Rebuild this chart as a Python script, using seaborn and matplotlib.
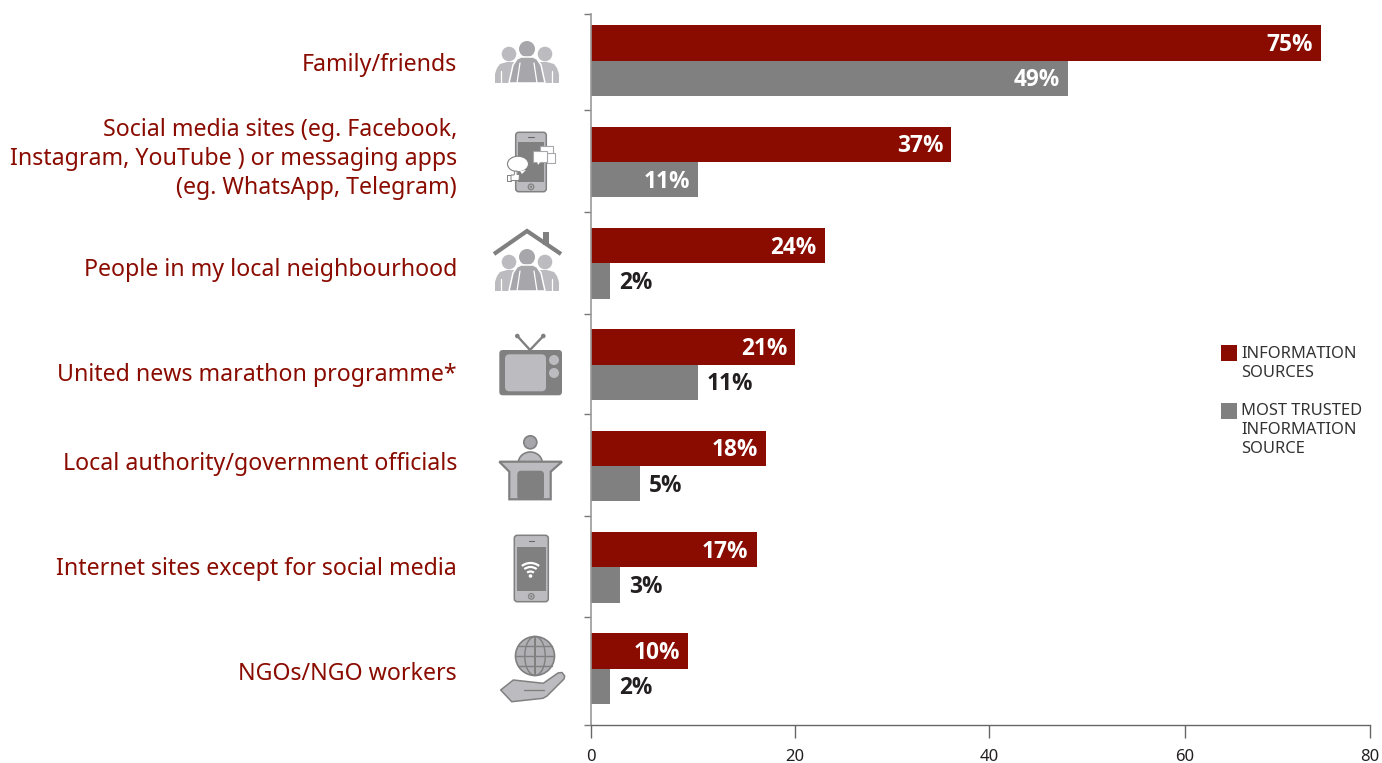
import matplotlib
matplotlib.use("Agg")
import matplotlib.pyplot as plt
import pandas as pd
import seaborn as sns
from matplotlib.patches import Arc, Circle, Ellipse, FancyBboxPatch, Polygon, Rectangle

# Survey results: where people get information and which source they trust most
sources = [
    "Family/friends",
    "Social media sites (eg. Facebook,\nInstagram, YouTube ) or messaging apps\n(eg. WhatsApp, Telegram)",
    "People in my local neighbourhood",
    "United news marathon programme*",
    "Local authority/government officials",
    "Internet sites except for social media",
    "NGOs/NGO workers",
]
information_sources = [75, 37, 24, 21, 18, 17, 10]
most_trusted = [49, 11, 2, 11, 5, 3, 2]
series_names = ["INFORMATION\nSOURCES", "MOST TRUSTED\nINFORMATION\nSOURCE"]
x_tick_labels = ["0", "20", "40", "60", "80"]

RED = "#8a0b00"
GREY = "#808080"
LIGHT = "#bcbcc0"
MID = "#a6a6ab"
INK = "#231f20"
FONT = "Noto Sans"
BOLD_FONT = "Open Sans"

W, H = 1382, 763
sns.set_theme(style="white")
plt.rcParams["font.family"] = [FONT, "DejaVu Sans"]

fig = plt.figure(figsize=(W / 100, H / 100), dpi=100, facecolor="white")


def px_axes(left, top, right, bottom):
    return [left / W, 1 - bottom / H, (right - left) / W, (bottom - top) / H]


# --- bars ---
ax = fig.add_axes(px_axes(591, 14.2, 1370, 725.2))
frame = pd.DataFrame({
    "source": sources * 2,
    "share": information_sources + most_trusted,
    "series": [series_names[0]] * len(sources) + [series_names[1]] * len(sources),
})
sns.barplot(
    data=frame, y="source", x="share", hue="series", order=sources,
    hue_order=series_names, palette=[RED, GREY], width=0.7, gap=0,
    saturation=1, legend=False, linewidth=0, edgecolor="none", ax=ax,
)
ax.set_xlim(0, 80)
ax.set_ylim(6.558, -0.459)
ax.set_xlabel("")
ax.set_ylabel("")

# The printed tick marks sit slightly right of the even scale divisions
ax.set_xticks([0, 20.95, 40.9, 60.95, 80], x_tick_labels)
ax.set_yticks([-0.459, 0.49, 1.49, 2.497, 3.49, 4.49, 5.487, 6.558], [""] * 8)
ax.tick_params(axis="x", length=9.4, width=1, color="#666666", pad=7.5,
               labelsize=12, labelcolor=INK, bottom=True)
ax.tick_params(axis="y", length=5, width=1, color="#777777", left=True)
for side in ("top", "right"):
    ax.spines[side].set_visible(False)
ax.spines["left"].set_color("#999999")
ax.spines["left"].set_linewidth(1.2)
ax.spines["bottom"].set_color("#666666")
ax.spines["bottom"].set_linewidth(1)

# --- value labels ---
px_to_pt = 72 / 100
trusted_inside = [True, True, False, False, False, False, False]
for series_idx, container in enumerate(ax.containers):
    for row, bar in enumerate(container):
        value = bar.get_width()
        inside = series_idx == 0 or trusted_inside[row]
        ax.annotate(
            f"{value:.0f}%",
            (value, bar.get_y() + bar.get_height() / 2),
            xytext=((-8 if inside else 9) * px_to_pt, 0.7),
            textcoords="offset points",
            ha="right" if inside else "left",
            va="center_baseline",
            color="white" if inside else INK,
            fontsize=16.3,
            fontweight="bold",
            family=BOLD_FONT,
        )

# --- overlay in figure pixels for row captions, pictograms and the key ---
ov = fig.add_axes([0, 0, 1, 1], zorder=5)
ov.set_xlim(0, W)
ov.set_ylim(H, 0)
ov.axis("off")
ov.patch.set_alpha(0)

caption_y = [65, 159, 270, 375, 464, 569, 674]
for text, y in zip(sources, caption_y):
    ov.text(457, y, text, ha="right", va="center", color=RED, fontsize=16.7,
            linespacing=1.28, multialignment="right")


def rounded(x0, y0, x1, y1, r, **kw):
    ov.add_patch(FancyBboxPatch((x0 + r, y0 + r), x1 - x0 - 2 * r, y1 - y0 - 2 * r,
                                boxstyle=f"round,pad={r},rounding_size={r}", **kw))


def people(cx, base):
    """Three standing figures; the outer two stand behind the middle one."""
    for side in (-1, 1):
        ov.add_patch(Circle((cx + side * 18, base - 29), 7.3, fc=LIGHT, ec="none"))
        ov.add_patch(Polygon([
            (cx + side * 10, base), (cx + side * 10, base - 21), (cx + side * 20, base - 21),
            (cx + side * 27, base - 19), (cx + side * 30, base - 15), (cx + side * 32, base - 9),
            (cx + side * 32, base),
        ], fc=LIGHT, ec="none"))
        ov.plot([cx + side * 25.5, cx + side * 25.5], [base - 12, base], color="white", lw=0.9)
    ov.add_patch(Circle((cx, base - 34), 8, fc=MID, ec="none"))
    ov.add_patch(Polygon([
        (cx - 18, base), (cx - 14, base - 18), (cx - 10, base - 24), (cx - 6, base - 26),
        (cx + 6, base - 26), (cx + 10, base - 24), (cx + 14, base - 18), (cx + 18, base),
    ], fc=MID, ec="white", lw=1.1))
    for side in (-1, 1):
        ov.plot([cx + side * 7, cx + side * 10], [base - 20, base], color="white", lw=0.9)


def phone(x0, y0, x1, y1, sx0, sy0, sx1, sy1):
    rounded(x0, y0, x1, y1, 3, fc=LIGHT, ec=GREY, lw=1.1)
    ov.add_patch(Rectangle((sx0, sy0), sx1 - sx0, sy1 - sy0, fc=GREY, ec="none"))
    cx = (x0 + x1) / 2
    ov.plot([cx - 2.5, cx + 3], [(y0 + sy0) / 2] * 2, color="#666666", lw=0.8)
    ov.add_patch(Circle((cx, (y1 + sy1) / 2), 2.8, fc="none", ec=GREY, lw=0.9))
    ov.add_patch(Circle((cx, (y1 + sy1) / 2), 1.2, fc=GREY, ec="none"))


people(527, 83)

# Phone with chat bubbles
phone(515.7, 132.3, 546.3, 191.7, 518, 142, 544, 182)
for x0, y0, x1, y1 in [(540, 146, 553, 156), (547, 153, 555, 163), (533, 151, 547, 162)]:
    ov.add_patch(Rectangle((x0, y0), x1 - x0, y1 - y0, fc="white", ec=MID, lw=0.8))
ov.add_patch(Polygon([(537, 161), (541, 161), (538, 165)], fc="white", ec="none"))
ov.add_patch(Ellipse((518, 164), 21, 15.5, fc="white", ec=GREY, lw=0.8))
ov.add_patch(Polygon([(520, 171), (526, 170), (522, 174)], fc="white", ec="none"))
ov.add_patch(Rectangle((507.5, 174.5), 3.5, 6, fc="white", ec=GREY, lw=0.7))
ov.add_patch(Polygon([(511, 175), (514, 175), (515, 171), (517, 171), (517, 174.5),
                      (519.5, 174.5), (519, 180.5), (511, 180.5)], fc="white", ec=GREY, lw=0.7))

# House sheltering people
people(527, 291)
ov.add_patch(Rectangle((542.7, 232), 6.3, 13, fc=GREY, ec="none"))
ov.plot([494, 527, 561], [254, 231, 254], color=GREY, lw=3, solid_joinstyle="miter",
        solid_capstyle="butt")

# Television
for tip in (517.3, 543.3):
    ov.plot([530, tip], [350, 336], color=GREY, lw=1.7)
    ov.add_patch(Circle((tip, 336), 2.3, fc=GREY, ec="none"))
rounded(499.3, 350, 562, 395.3, 3.5, fc=GREY, ec="none")
rounded(505, 354.3, 546, 391.3, 4.5, fc=LIGHT, ec="none")
for y in (360, 373):
    ov.add_patch(Circle((554, y), 5, fc=LIGHT, ec="none"))

# Speaker at a podium
ov.add_patch(Ellipse((530.3, 463), 24, 22, fc=LIGHT, ec=GREY, lw=1.2))
ov.add_patch(Circle((530.3, 442.3), 6.5, fc=MID, ec=GREY, lw=1.2))
ov.add_patch(Polygon([(499.3, 461.7), (562, 461.7), (550.7, 471.7), (550.7, 499.3),
                      (509.3, 499.3), (509.3, 471.7)], fc=LIGHT, ec=GREY, lw=1.6))
rounded(517.3, 470.7, 544, 500, 4, fc=GREY, ec="none")

# Phone showing a wifi signal
phone(514.3, 535.3, 548.3, 601.7, 516.7, 547, 546, 591)
for r, lw in ((5.5, 1.6), (10, 1.6), (14, 1.6)):
    ov.add_patch(Arc((530.5, 577), 2 * r, 2 * r, theta1=232, theta2=308, color="white", lw=lw))
ov.add_patch(Circle((530.5, 576), 1.8, fc="white", ec="none"))

# Globe resting on an open hand
gx, gy, gr = 535, 656, 19.5
ov.add_patch(Circle((gx, gy), gr, fc="#b0b0b5", ec=GREY, lw=1.2))
for width in (gr * 1.05, 0.01):
    ov.add_patch(Ellipse((gx, gy), width, 2 * gr, fc="none", ec=GREY, lw=1))
ov.plot([gx - gr, gx + gr], [gy, gy], color=GREY, lw=1)
for dy in (-10, 10):
    half = (gr ** 2 - dy ** 2) ** 0.5
    ov.plot([gx - half, gx + half], [gy + dy, gy + dy], color=GREY, lw=1)
ov.add_patch(Polygon([(500.7, 690), (513.3, 680), (543.3, 683.3), (558, 673), (562, 672.5),
                      (564.7, 676), (564, 679), (547, 696), (543, 698.3), (511.7, 701.7)],
                     fc=LIGHT, ec=GREY, lw=1.1, joinstyle="round"))
ov.plot([524, 544], [690, 690], color=GREY, lw=1)

# Colour key
key_rows = [(345, 354, RED), (403, 411, GREY)]
for (top, text_y, colour), name in zip(key_rows, series_names):
    ov.text(1241, text_y - 8, name, ha="left", va="top", color="#333333",
            fontsize=11.9, linespacing=1.25)
    ov.add_patch(Rectangle((1221, top), 16, 16, fc=colour, ec="none"))

fig.savefig("out.png", dpi=100, facecolor="white")
